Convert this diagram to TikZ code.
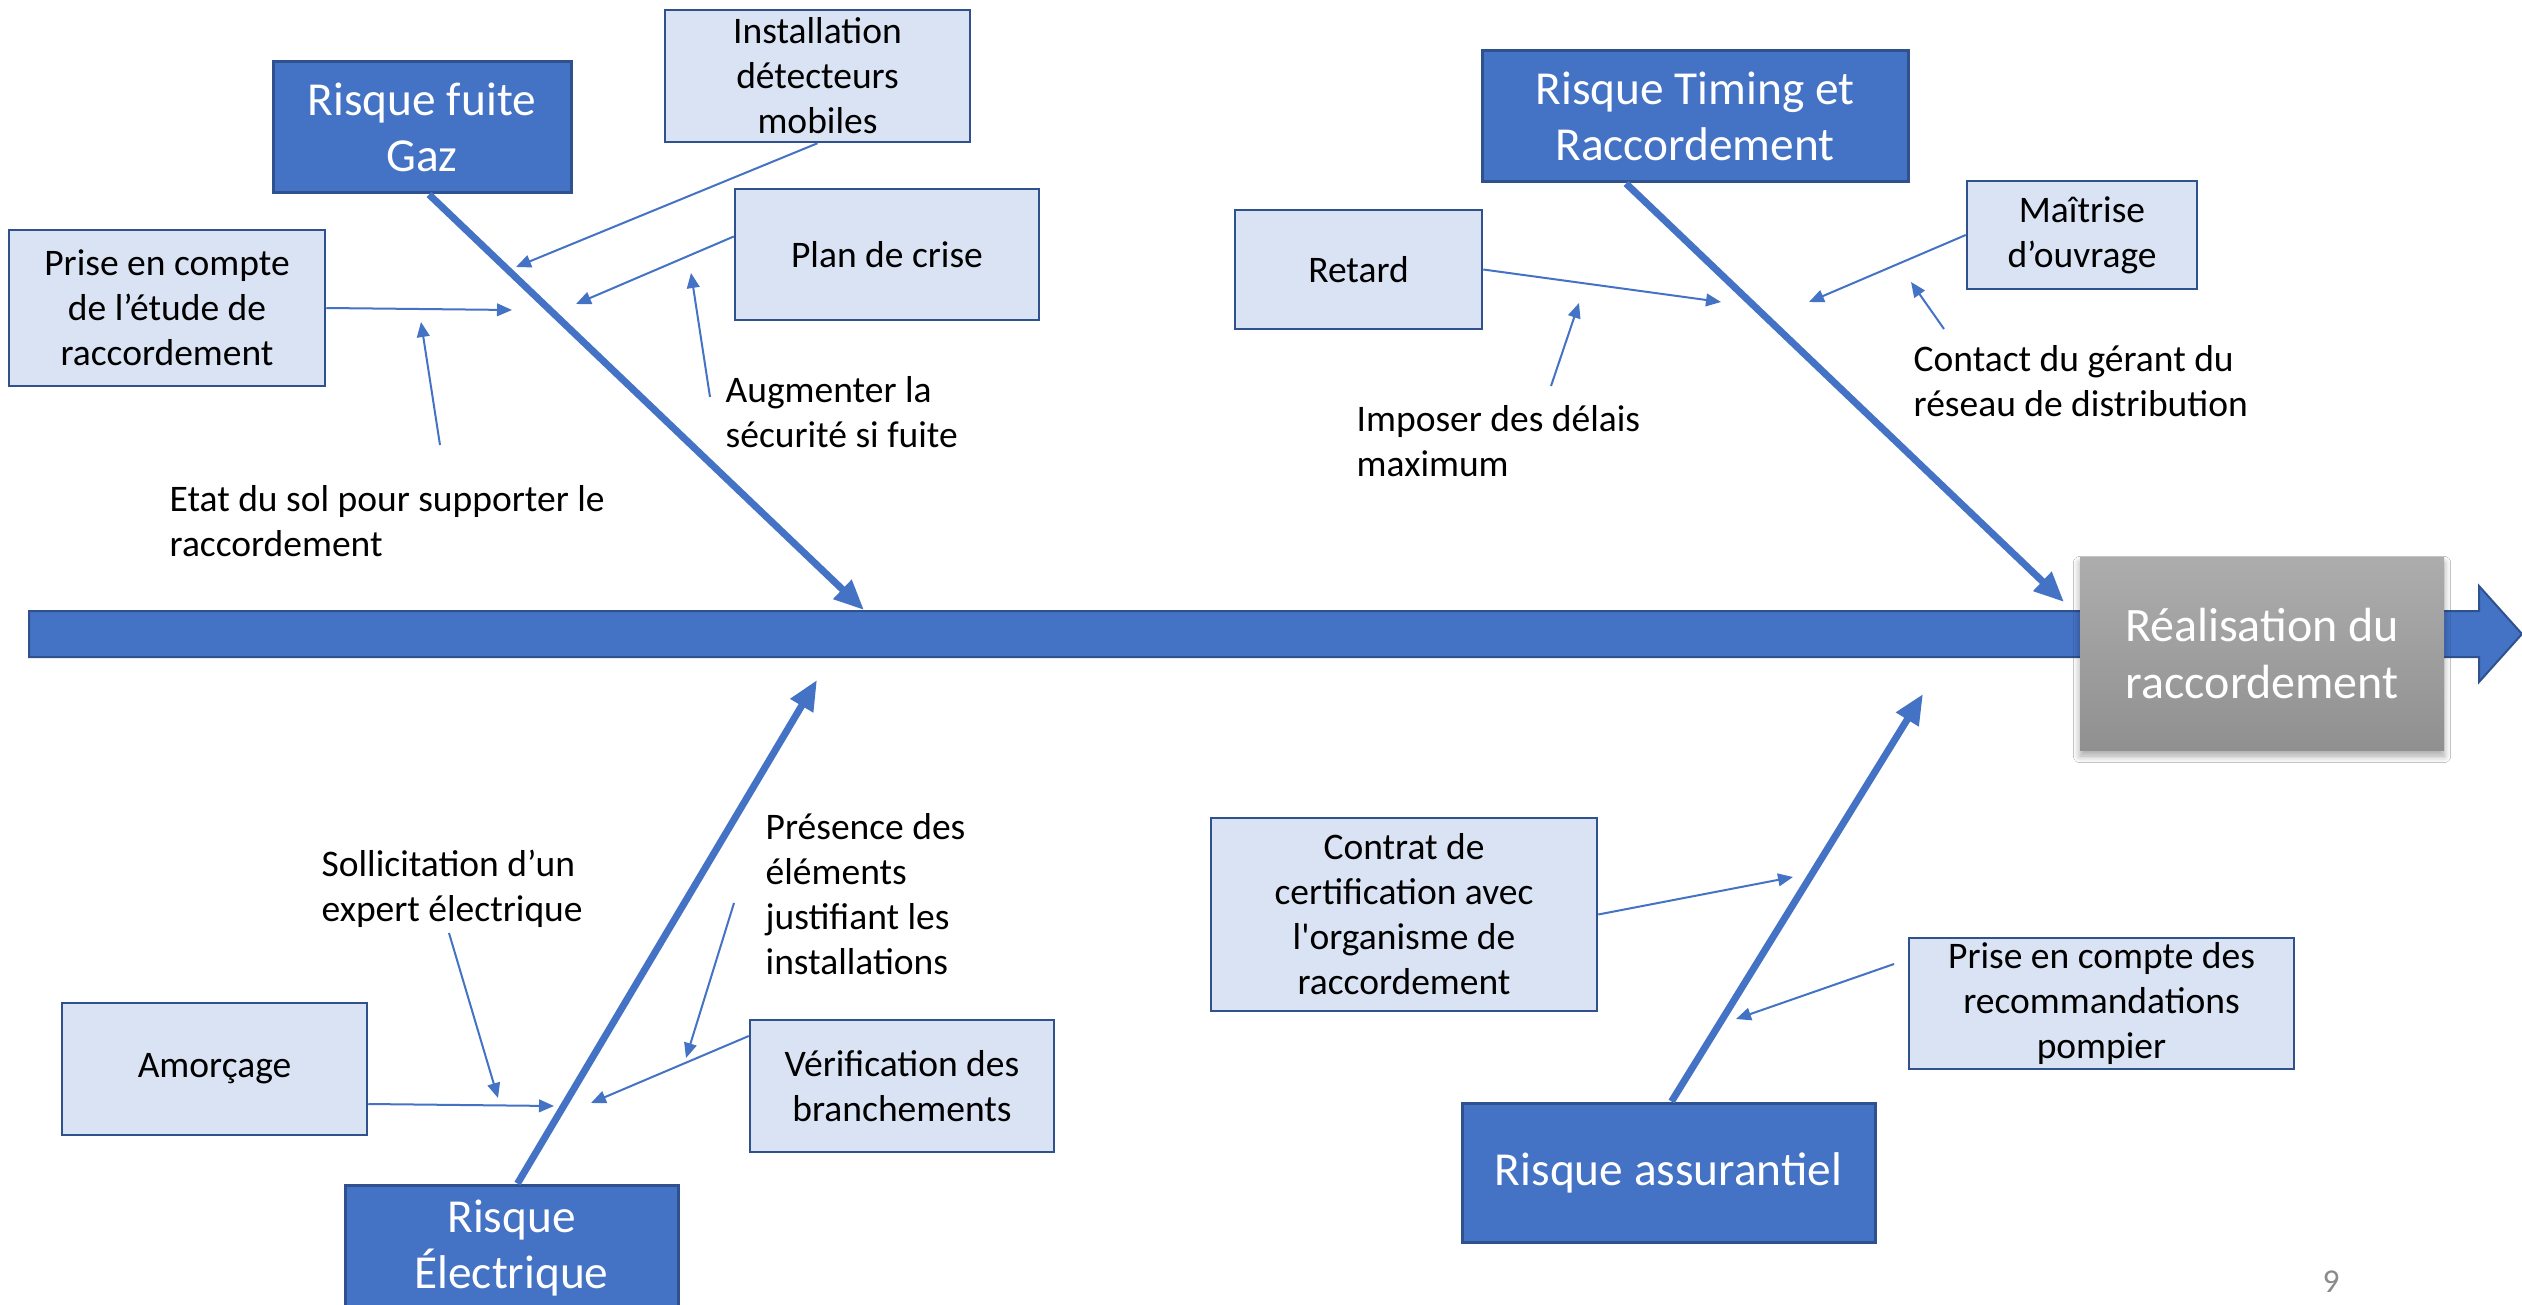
\documentclass[tikz,border=0pt]{standalone}
\usepackage{fontspec}
\setmainfont{Carlito}
\usetikzlibrary{arrows.meta,calc,shadows.blur}
\definecolor{dblue}{HTML}{4472C4}
\definecolor{bord}{HTML}{2F528F}
\definecolor{lblue}{HTML}{DAE3F3}
\definecolor{gtop}{HTML}{ADADAD}
\definecolor{gbot}{HTML}{909090}
\definecolor{pgnum}{HTML}{8A8A8A}
\begin{document}
\begin{tikzpicture}[x=0.3pt,y=-0.3pt,
  lightbox/.style={draw=bord, line width=0.75pt, fill=lblue, align=center, inner sep=0pt, font=\fontsize{11.25}{13.5}\selectfont, text=black},
  darkbox/.style={draw=bord, line width=0.9pt, fill=dblue, align=center, inner sep=0pt, font=\fontsize{14.2}{16.8}\selectfont, text=white},
  freetext/.style={anchor=west, align=left, inner sep=0pt, font=\fontsize{11.25}{13.5}\selectfont},
  bone/.style={draw=dblue, line width=2.1pt, -{Triangle[length=9pt,width=7.5pt]}},
  twig/.style={draw=dblue, line width=0.6pt, -{Triangle[length=4.5pt,width=3.8pt]}},
]
\clip (0,0) rectangle (2522,1305);
\fill[white] (0,0) rectangle (2522,1305);

% spine
\fill[dblue, draw=bord, line width=0.6pt] (29,611) -- (2479,611) -- (2479,586) -- (2522,634) -- (2479,682) -- (2479,657) -- (29,657) -- cycle;

% category boxes
\node[darkbox, minimum width=89.4pt, minimum height=39.3pt] (gaz) at (422,127.5) {Risque fuite\\Gaz};
\node[darkbox, minimum width=127.8pt, minimum height=39.3pt] (timing) at (1695,116.5) {Risque Timing et\\Raccordement};
\node[darkbox, minimum width=99.9pt, minimum height=38.1pt] (elec) at (511.5,1248.5) {Risque\\Électrique};
\node[darkbox, minimum width=123.9pt, minimum height=41.7pt] (assur) at (1668.5,1172.5) {Risque assurantiel};

% bone tips
\coordinate (gaztip) at (864,610);
\coordinate (timtip) at (2064,602);
\coordinate (electip) at (817,680);
\coordinate (assurtip) at (1923,694);

\draw[bone] ($(gaz.south)+(7,0)$) -- (gaztip);
\draw[bone] ($(timing.south)+(-69,0)$) -- (timtip);
\draw[bone] ($(elec.north)+(6,0)$) -- (electip);
\draw[bone] ($(assur.north)+(3,0)$) -- (assurtip);

% cause boxes
\node[lightbox, minimum width=91.5pt, minimum height=39.6pt] (det) at (817.5,76) {Installation\\détecteurs\\mobiles};
\node[lightbox, minimum width=91.2pt, minimum height=39.3pt] (plan) at (887,254.5) {Plan de crise};
\node[lightbox, minimum width=94.8pt, minimum height=46.8pt] (etude) at (167,308) {Prise en compte\\de l’étude de\\raccordement};
\node[lightbox, minimum width=69pt, minimum height=32.4pt] (maitrise) at (2082,235) {Maîtrise\\d’ouvrage};
\node[lightbox, minimum width=74.1pt, minimum height=35.7pt] (retard) at (1358.5,269.5) {Retard};
\node[lightbox, minimum width=91.5pt, minimum height=39.6pt] (amorc) at (214.5,1069) {Amorçage};
\node[lightbox, minimum width=91.2pt, minimum height=39.6pt] (verif) at (902,1086) {Vérification des\\branchements};
\node[lightbox, minimum width=115.8pt, minimum height=57.9pt] (contrat) at (1404,914.5) {Contrat de\\certification avec\\l\textquotesingle organisme de\\raccordement};
\node[lightbox, minimum width=115.5pt, minimum height=39.3pt] (pompier) at (2101.5,1003.5) {Prise en compte des\\recommandations\\pompier};

% effect box
\node[top color=gtop, bottom color=gbot, minimum width=109.2pt, minimum height=57.9pt, inner sep=0pt, align=center, text=white, font=\fontsize{14.4}{17.1}\selectfont, blur shadow={shadow xshift=0pt, shadow yshift=-1.8pt, shadow blur steps=8, shadow blur radius=2pt, shadow opacity=35}] (real) at (2262,653.5) {Réalisation du\\raccordement};

% free labels
\node[freetext] (augm) at (725,412) {Augmenter la\\sécurité si fuite};
\node[freetext] (etat) at (169,521.5) {Etat du sol pour supporter le\\raccordement};
\node[freetext] (imposer) at (1356,441) {Imposer des délais\\maximum};
\node[freetext] (contact) at (1913,381) {Contact du gérant du\\réseau de distribution};
\node[freetext] (sollic) at (321,889) {Sollicitation d’un\\expert électrique};
\node[freetext] (presence) at (765,894.5) {Présence des\\éléments\\justifiant les\\installations};
\node[text=pgnum, font=\fontsize{10}{12}\selectfont, inner sep=0pt] (pg) at (2331,1282) {9};

% twig ends
\coordinate (e1) at (516,267);
\coordinate (e2) at (576,304);
\coordinate (e3) at (512,310);
\coordinate (s4) at (440,445);
\coordinate (e4) at (421,322);
\coordinate (s5) at (710,397);
\coordinate (e5) at (691,273);
\coordinate (e6) at (1721,302);
\coordinate (e7) at (1809,302);
\coordinate (s8) at (1944,329);
\coordinate (e8) at (1911,282);
\coordinate (s9) at (1551,386);
\coordinate (e9) at (1579,303);
\coordinate (e10) at (554,1106);
\coordinate (e11) at (591,1103);
\coordinate (s12) at (449,933);
\coordinate (e12) at (498,1098);
\coordinate (s13) at (734,903);
\coordinate (e13) at (686,1058);
\coordinate (e14) at (1793,877);
\coordinate (s15) at (1894,964);
\coordinate (e15) at (1736,1019);

\draw[twig] (det.south) -- (e1);
\draw[twig] ($(plan.west)+(0,-18)$) -- (e2);
\draw[twig] (etude.east) -- (e3);
\draw[twig] (s4) -- (e4);
\draw[twig] (s5) -- (e5);
\draw[twig] (retard.east) -- (e6);
\draw[twig] (maitrise.west) -- (e7);
\draw[twig] (s8) -- (e8);
\draw[twig] (s9) -- (e9);
\draw[twig] ($(amorc.east)+(0,35)$) -- (e10);
\draw[twig] ($(verif.west)+(0,-50)$) -- (e11);
\draw[twig] (s12) -- (e12);
\draw[twig] (s13) -- (e13);
\draw[twig] (contrat.east) -- (e14);
\draw[twig] (s15) -- (e15);
\end{tikzpicture}
\end{document}
